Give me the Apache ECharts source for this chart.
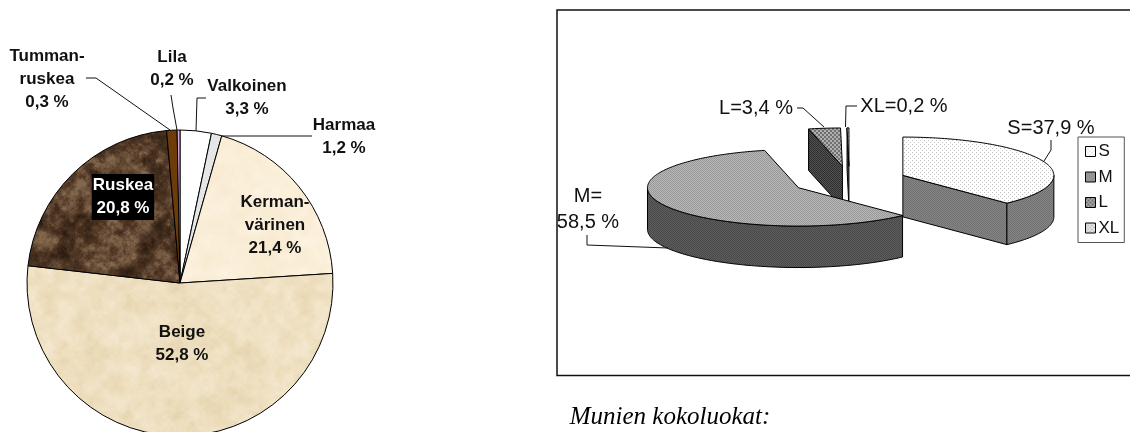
<!DOCTYPE html>
<html><head><meta charset="utf-8">
<style>html,body{margin:0;padding:0;background:#fff}#c{width:1130px;height:432px}</style>
<script src="https://cdn.jsdelivr.net/npm/echarts@6/dist/echarts.min.js"></script>
</head><body><div id="c"></div>
<script>
// ---- data
const colourNames = ['Valkoinen','Harmaa','Kerman-\nvärinen','Beige','Ruskea','Tumman-\nruskea','Lila'];
const colourValues = [3.3,1.1,19.6,52.8,21.8,1.1,0.3];
const colourLabels = ['3,3 %','1,2 %','21,4 %','52,8 %','20,8 %','0,3 %','0,2 %'];
const sizeNames = ['S','M','L','XL'];
const sizeValues = [37.9,58.5,3.4,0.2];
const sizeLabels = ['S=37,9 %','M=\n58,5 %','L=3,4 %','XL=0,2 %'];

// ---- textures
function hash(x,y,s){const v=Math.sin(x*127.1+y*311.7+s*74.7)*43758.5453;return v-Math.floor(v);}
function vnoise(x,y,p,s){
  const xi=Math.floor(x),yi=Math.floor(y);let fx=x-xi,fy=y-yi;
  fx=fx*fx*(3-2*fx);fy=fy*fy*(3-2*fy);
  const h=(a,b)=>hash(((a%p)+p)%p,((b%p)+p)%p,s);
  return (h(xi,yi)*(1-fx)+h(xi+1,yi)*fx)*(1-fy)+(h(xi,yi+1)*(1-fx)+h(xi+1,yi+1)*fx)*fy;
}
function marble(stops,seed,contrast,base){
  const n=256,c=document.createElement('canvas');c.width=c.height=n;
  const g=c.getContext('2d'),im=g.createImageData(n,n);
  for(let y=0;y<n;y++)for(let x=0;x<n;x++){
    let t=0,a=.5,f=base;
    for(let o=0;o<5;o++){t+=a*vnoise(x/n*f,y/n*f,f,seed+o);a/=1.5;f*=2;}
    t=Math.max(0,Math.min(1,(t/1.3-.5)*contrast+.5));
    const k=t<.5?0:1,u=t<.5?t*2:(t-.5)*2,A=stops[k],B=stops[k+1],i=(y*n+x)*4;
    for(let j=0;j<3;j++)im.data[i+j]=A[j]+(B[j]-A[j])*u;
    im.data[i+3]=255;
  }
  g.putImageData(im,0,0);
  return {image:c,repeat:'repeat'};
}
function dither(rows,a,b){
  const h=rows.length,w=rows[0].length,c=document.createElement('canvas');c.width=w;c.height=h;
  const g=c.getContext('2d');
  rows.forEach((r,y)=>[...r].forEach((ch,x)=>{g.fillStyle=ch==='#'?a:b;g.fillRect(x,y,1,1);}));
  return {image:c,repeat:'repeat'};
}
const check=['#.','.#'], sparse=['#...','....','..#.','....'], coarse=['##..','##..','..##','..##'];
const pieColors=['#ffffff','#e6e6e6',
  marble([[247,234,208],[250,238,216],[252,243,226]],3,1.6,16),
  marble([[230,212,174],[238,223,192],[244,232,208]],7,1.6,16),
  marble([[44,28,16],[78,54,36],[132,104,78]],11,2.2,16),
  '#6e3c0a','#d9a6d9'];
const sizeTop=[dither(sparse,'#c4c4c4','#ffffff'),dither(check,'#989898','#b8b8b8'),
               dither(coarse,'#707070','#b0b0b0'),dither(sparse,'#a0a0a0','#e0e0e0')];
const sizeWall=[dither(check,'#707070','#868686'),dither(check,'#484848','#5e5e5e'),
                dither(check,'#2e2e2e','#525252'),dither(check,'#303030','#606060')];
const legendIcon=[sizeTop[0],dither(check,'#888888','#a0a0a0'),sizeTop[2],sizeTop[3]];

// ---- left pie label placement (centre of each text block)
const labelAnchors={0:[247,98],1:[344,137],2:[275,225],3:[182,344],4:[123,197],5:[47,79],6:[172,69]};

// ---- right 3D pie geometry
const pie3d={cx:849.3,cy:180.8,rx:151,ry:38.3,depth:41.5,explode:0.382};
const sizeTotal=sizeValues.reduce((a,b)=>a+b,0);
const sizeSpan=i=>{const s=sizeValues.slice(0,i).reduce((a,b)=>a+b,0);
  return [s/sizeTotal*2*Math.PI,(s+sizeValues[i])/sizeTotal*2*Math.PI];};
function sliceItem(i){
  const [a0,a1]=sizeSpan(i),m=(a0+a1)/2,G=pie3d,d=G.depth;
  const cx=G.cx+G.explode*G.rx*Math.sin(m),cy=G.cy-G.explode*G.ry*Math.cos(m);
  const P=a=>[cx+G.rx*Math.sin(a),cy-G.ry*Math.cos(a)];
  const arc=(s,e)=>{const n=Math.max(2,Math.ceil((e-s)/0.02)),r=[];for(let k=0;k<=n;k++)r.push(P(s+(e-s)*k/n));return r;};
  const line={stroke:'#000',lineWidth:1};
  const kids=[];
  const wall=(pts)=>kids.push({type:'polygon',shape:{points:pts},style:{fill:sizeWall[i],...line}});
  const radial=a=>{const p=P(a);wall([[cx,cy],p,[p[0],p[1]+d],[cx,cy+d]]);};
  if(-Math.sin(a0)>1e-6)radial(a0);
  if(Math.sin(a1)>1e-6)radial(a1);
  const s=Math.max(a0,Math.PI/2),e=Math.min(a1,Math.PI*1.5);
  if(e>s){const t=arc(s,e);wall(t.concat(t.slice().reverse().map(p=>[p[0],p[1]+d])));}
  kids.push({type:'polygon',shape:{points:[[cx,cy]].concat(arc(a0,a1))},style:{fill:sizeTop[i],...line}});
  return {type:'group',children:kids};
}
const drawOrder=[2,3,1,0];
const sliceSeries=drawOrder.map(i=>({
  type:'custom',name:sizeNames[i],coordinateSystem:'none',silent:true,animation:false,
  data:[sizeValues[i]],clip:false,z:3,
  itemStyle:{color:legendIcon[i]},
  renderItem:()=>sliceItem(i)
}));

// ---- annotations
const lead=(pts,w)=>({type:'polyline',z:6,silent:true,shape:{points:pts},style:{fill:null,stroke:'#111',lineWidth:w||1}});
const txt=(s,x,y,extra)=>({type:'text',z:7,silent:true,x,y,style:Object.assign({text:s,fill:'#111',font:'20px "Liberation Sans"',align:'center',verticalAlign:'middle',lineHeight:26},extra||{})});
const sizeAnchors=[[1051,128],[588,209],[756,108],[904,106]];

const chart=echarts.init(document.getElementById('c'),null,{renderer:'canvas'});
chart.setOption({
  animation:false,backgroundColor:'#fff',
  legend:{
    data:sizeNames.map((n,i)=>({name:n,icon:'rect',itemStyle:{color:legendIcon[i],borderColor:'#000',borderWidth:1}})),
    orient:'vertical',left:1078,top:137,itemWidth:10,itemHeight:10,itemGap:8.5,
    padding:[6,5,6,7],borderColor:'#555',borderWidth:1,selectedMode:false,
    textStyle:{fontFamily:'Liberation Sans',fontSize:17,color:'#111',padding:[0,0,0,-2]}
  },
  series:[{
    type:'pie',center:[180,283],radius:[0,153],startAngle:90,clockwise:true,silent:true,
    minAngle:0,avoidLabelOverlap:false,z:2,
    data:colourNames.map((n,i)=>({name:n,value:colourValues[i],itemStyle:{color:pieColors[i]},
      label:i===4?{color:'#fff',backgroundColor:'#000',padding:[0,1,0,1]}:{}})),
    itemStyle:{borderColor:'#000',borderWidth:1},
    label:{show:true,position:'inside',color:'#111',fontFamily:'Liberation Sans',fontWeight:'bold',fontSize:17,lineHeight:23,
      formatter:p=>p.name+'\n'+colourLabels[p.dataIndex]},
    labelLine:{show:false},
    labelLayout:p=>({x:labelAnchors[p.dataIndex][0],y:labelAnchors[p.dataIndex][1],align:'center',verticalAlign:'middle'})
  }].concat(sliceSeries),
  graphic:[
    {type:'polyline',z:1,silent:true,shape:{points:[[1130,10],[557,10],[557,375.5],[1130,375.5]]},style:{fill:null,stroke:'#111',lineWidth:1.5}},
    lead([[86,78],[96,78],[170,130]]),lead([[171,95],[173,108],[177,130]]),
    lead([[206,98],[197,98],[196,131]]),lead([[312,136],[222,136]]),
    lead([[797,108],[803,108],[824,127]]),lead([[857,106],[846,106],[845.5,127]]),
    lead([[1051,140],[1051,150],[1044,161]]),lead([[587,235],[587,245],[668,248]]),
    txt(sizeLabels[0],...sizeAnchors[0]),txt(sizeLabels[1],...sizeAnchors[1]),
    txt(sizeLabels[2],...sizeAnchors[2]),txt(sizeLabels[3],...sizeAnchors[3]),
    txt('Munien kokoluokat:',670,417,{font:'italic 25px "Liberation Serif"',fill:'#000'})
  ]
});
</script></body></html>
